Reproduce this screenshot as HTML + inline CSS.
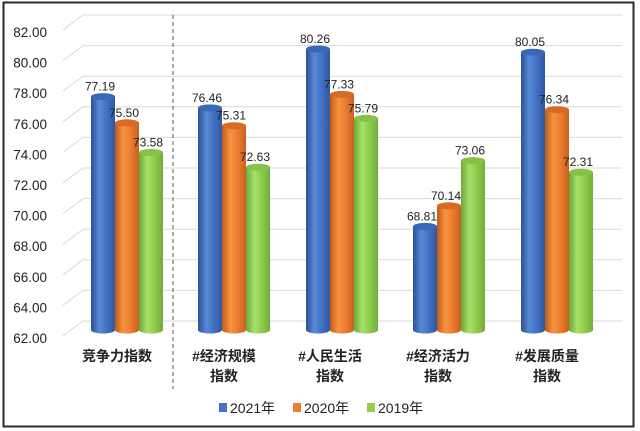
<!DOCTYPE html>
<html><head><meta charset="utf-8"><style>
html,body{margin:0;padding:0;background:#fff;}
svg{display:block;}
text{font-family:"Liberation Sans","Noto Sans CJK SC",sans-serif;}
</style></head><body>
<svg width="640" height="431" viewBox="0 0 640 431" xmlns="http://www.w3.org/2000/svg">
<defs>
<linearGradient id="gb" x1="0" x2="1" y1="0" y2="0">
<stop offset="0" stop-color="#2b5096"/><stop offset="0.35" stop-color="#5a8ad6"/><stop offset="0.6" stop-color="#4674c6"/><stop offset="1" stop-color="#2f58a4"/></linearGradient>
<linearGradient id="go" x1="0" x2="1" y1="0" y2="0">
<stop offset="0" stop-color="#c05a18"/><stop offset="0.35" stop-color="#f7943f"/><stop offset="0.6" stop-color="#ee8133"/><stop offset="1" stop-color="#c8601e"/></linearGradient>
<linearGradient id="gg" x1="0" x2="1" y1="0" y2="0">
<stop offset="0" stop-color="#6aa83a"/><stop offset="0.35" stop-color="#a8e06a"/><stop offset="0.6" stop-color="#92d050"/><stop offset="1" stop-color="#70ae3c"/></linearGradient>
</defs>
<rect x="0" y="0" width="640" height="431" fill="#fff"/>
<rect x="3.5" y="2.5" width="630" height="424" fill="#fff" stroke="#2a2a2a" stroke-width="2"/>
<g stroke="#dadada" stroke-width="1" fill="none">
<path d="M63 30L83 15H622"/>
<path d="M63 60.6L83 45.6H622"/>
<path d="M63 91.2L83 76.2H622"/>
<path d="M63 121.8L83 106.8H622"/>
<path d="M63 152.4L83 137.4H622"/>
<path d="M63 183L83 168H622"/>
<path d="M63 213.6L83 198.6H622"/>
<path d="M63 244.2L83 229.2H622"/>
<path d="M63 274.8L83 259.8H622"/>
<path d="M63 305.4L83 290.4H622"/>
<path d="M63 336L83 321H622"/>
</g>
<g font-size="13.5" fill="#222" text-anchor="end">
<text x="47" y="37">82.00</text>
<text x="47" y="67.6">80.00</text>
<text x="47" y="98.2">78.00</text>
<text x="47" y="128.8">76.00</text>
<text x="47" y="159.4">74.00</text>
<text x="47" y="190">72.00</text>
<text x="47" y="220.6">70.00</text>
<text x="47" y="251.2">68.00</text>
<text x="47" y="281.8">66.00</text>
<text x="47" y="312.4">64.00</text>
<text x="47" y="343">62.00</text>
</g>
<line x1="173" y1="15" x2="173" y2="389" stroke="#555" stroke-width="1" stroke-dasharray="4,3"/>
<!-- bars -->
<g>
<!-- G1 -->
<path d="M91 96.6V330A12 3.5 0 0 0 115 330V96.6Z" fill="url(#gb)"/><ellipse cx="103" cy="96.6" rx="12" ry="3.5" fill="#3b67b8"/>
<path d="M115 122.8V330A12 3.5 0 0 0 139 330V122.8Z" fill="url(#go)"/><ellipse cx="127" cy="122.8" rx="12" ry="3.5" fill="#d96a22"/>
<path d="M139 152.5V330A12 3.5 0 0 0 163 330V152.5Z" fill="url(#gg)"/><ellipse cx="151" cy="152.5" rx="12" ry="3.5" fill="#84c248"/>
<!-- G2 -->
<path d="M198 107.9V330A12 3.5 0 0 0 222 330V107.9Z" fill="url(#gb)"/><ellipse cx="210" cy="107.9" rx="12" ry="3.5" fill="#3b67b8"/>
<path d="M222 125.7V330A12 3.5 0 0 0 246 330V125.7Z" fill="url(#go)"/><ellipse cx="234" cy="125.7" rx="12" ry="3.5" fill="#d96a22"/>
<path d="M246 167.2V330A12 3.5 0 0 0 270 330V167.2Z" fill="url(#gg)"/><ellipse cx="258" cy="167.2" rx="12" ry="3.5" fill="#84c248"/>
<!-- G3 -->
<path d="M306 49V330A12 3.5 0 0 0 330 330V49Z" fill="url(#gb)"/><ellipse cx="318" cy="49" rx="12" ry="3.5" fill="#3b67b8"/>
<path d="M330 94.4V330A12 3.5 0 0 0 354 330V94.4Z" fill="url(#go)"/><ellipse cx="342" cy="94.4" rx="12" ry="3.5" fill="#d96a22"/>
<path d="M354 118.3V330A12 3.5 0 0 0 378 330V118.3Z" fill="url(#gg)"/><ellipse cx="366" cy="118.3" rx="12" ry="3.5" fill="#84c248"/>
<!-- G4 -->
<path d="M413 226.4V330A12 3.5 0 0 0 437 330V226.4Z" fill="url(#gb)"/><ellipse cx="425" cy="226.4" rx="12" ry="3.5" fill="#3b67b8"/>
<path d="M437 205.8V330A12 3.5 0 0 0 461 330V205.8Z" fill="url(#go)"/><ellipse cx="449" cy="205.8" rx="12" ry="3.5" fill="#d96a22"/>
<path d="M461 160.6V330A12 3.5 0 0 0 485 330V160.6Z" fill="url(#gg)"/><ellipse cx="473" cy="160.6" rx="12" ry="3.5" fill="#84c248"/>
<!-- G5 -->
<path d="M521 52.2V330A12 3.5 0 0 0 545 330V52.2Z" fill="url(#gb)"/><ellipse cx="533" cy="52.2" rx="12" ry="3.5" fill="#3b67b8"/>
<path d="M545 109.7V330A12 3.5 0 0 0 569 330V109.7Z" fill="url(#go)"/><ellipse cx="557" cy="109.7" rx="12" ry="3.5" fill="#d96a22"/>
<path d="M569 172.2V330A12 3.5 0 0 0 593 330V172.2Z" fill="url(#gg)"/><ellipse cx="581" cy="172.2" rx="12" ry="3.5" fill="#84c248"/>
</g>
<g font-size="12" fill="#222" text-anchor="middle">
<text x="100" y="90.6">77.19</text>
<text x="124" y="116.8">75.50</text>
<text x="148" y="146.5">73.58</text>
<text x="207" y="101.9">76.46</text>
<text x="231" y="119.7">75.31</text>
<text x="255" y="161.2">72.63</text>
<text x="315" y="43">80.26</text>
<text x="339" y="88.4">77.33</text>
<text x="363" y="112.3">75.79</text>
<text x="422" y="220.4">68.81</text>
<text x="446" y="199.8">70.14</text>
<text x="470" y="154.6">73.06</text>
<text x="530" y="46.2">80.05</text>
<text x="554" y="103.7">76.34</text>
<text x="578" y="166.2">72.31</text>
</g>
<g font-size="14" font-weight="bold" fill="#222" text-anchor="middle">
<text x="117" y="361">竞争力指数</text>
<text x="224" y="361">#经济规模</text>
<text x="224" y="381">指数</text>
<text x="330" y="361">#人民生活</text>
<text x="330" y="381">指数</text>
<text x="438" y="361">#经济活力</text>
<text x="438" y="381">指数</text>
<text x="547" y="361">#发展质量</text>
<text x="547" y="381">指数</text>
</g>
<g font-size="14" fill="#222">
<rect x="219" y="403" width="8" height="9" fill="#4472c4"/>
<text x="230" y="413">2021年</text>
<rect x="293" y="403" width="8" height="9" fill="#ed7d31"/>
<text x="304" y="413">2020年</text>
<rect x="367" y="403" width="8" height="9" fill="#92d050"/>
<text x="378" y="413">2019年</text>
</g>
</svg>
</body></html>
